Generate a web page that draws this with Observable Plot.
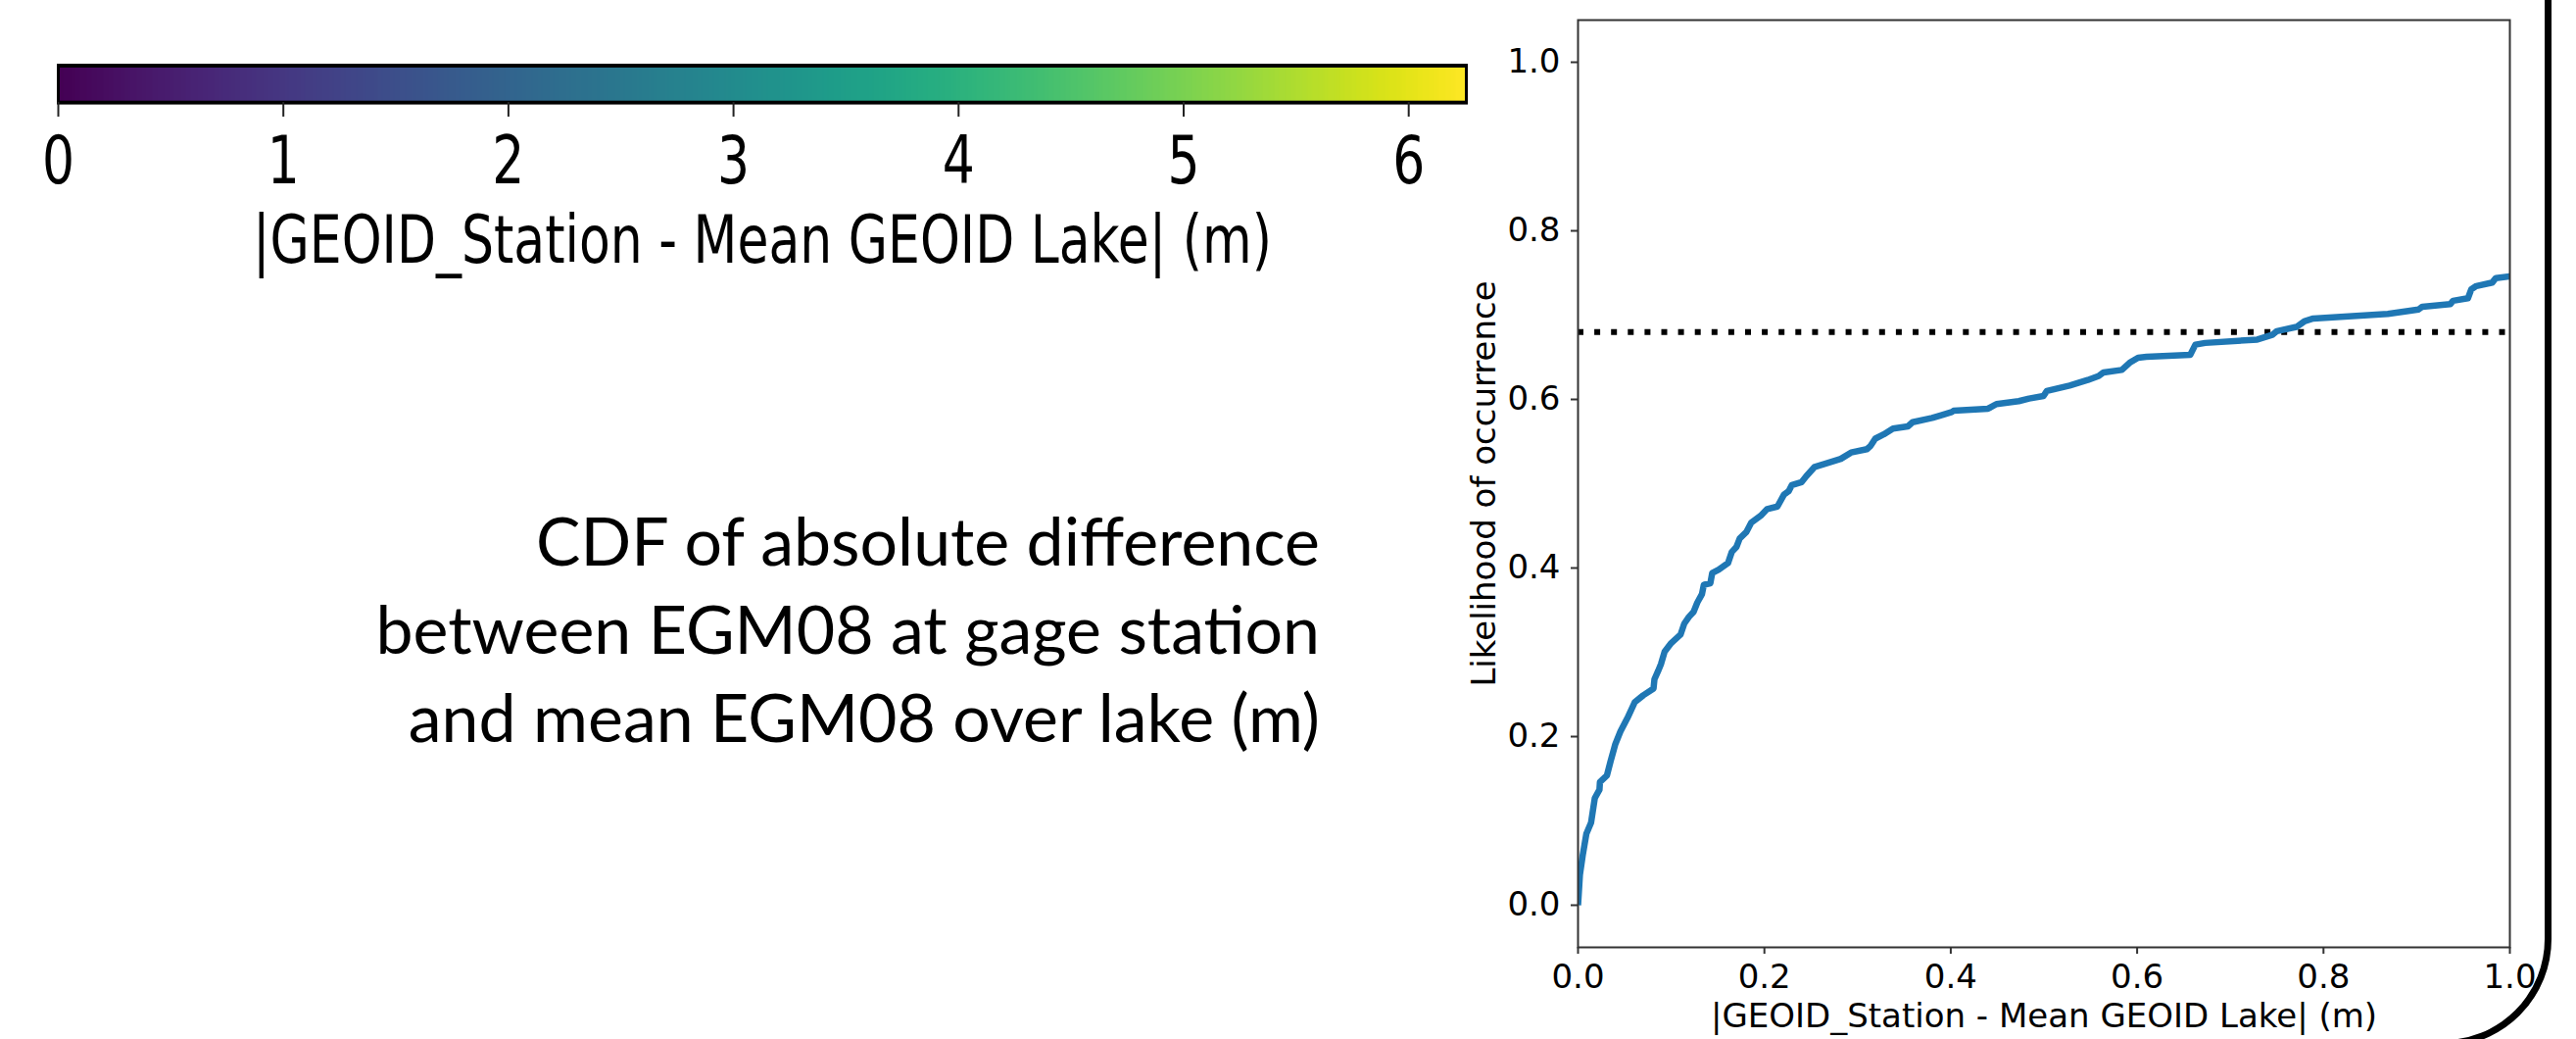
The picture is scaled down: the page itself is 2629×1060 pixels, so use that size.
<!DOCTYPE html>
<html>
<head>
<meta charset="utf-8">
<script src="https://cdn.jsdelivr.net/npm/d3@7"></script>
<script src="https://cdn.jsdelivr.net/npm/@observablehq/plot@0.6"></script>
<style>
  html, body { margin: 0; padding: 0; width: 2629px; height: 1060px; overflow: hidden; background: #fff; }
  #stage { position: relative; width: 2629px; height: 1060px; overflow: hidden; }
  #cbar { position: absolute; left: 0; top: 0; transform: scale(1, 1.3); transform-origin: 0 0; }
  #cdf { position: absolute; left: 1460px; top: 0; }
  .cap { position: absolute; left: 0; width: 1347px; text-align: right; font-family: Lato, "Open Sans", sans-serif;
         font-size: 68px; line-height: 68px; color: #000; white-space: nowrap; }
  #frame { position: absolute; left: -300px; top: -300px; width: 2904px; height: 1368px; box-sizing: border-box;
           border: 7px solid #000; border-radius: 110px; pointer-events: none; }
</style>
</head>
<body>
<div id="stage">
  <div id="frame"></div>
  <div id="cbar"></div>
  <div id="caption"></div>
  <div id="cdf"></div>
</div>
<script>
// ---------- data ----------
const cdfX = [0, 0.002, 0.005, 0.009, 0.014, 0.018, 0.023, 0.0235, 0.031, 0.035, 0.040, 0.0455, 0.053, 0.061, 0.070,
  0.081, 0.082, 0.086, 0.089, 0.093, 0.100, 0.110, 0.114, 0.119, 0.124, 0.128, 0.133, 0.135, 0.142, 0.144, 0.151,
  0.161, 0.165, 0.170, 0.1735, 0.1805, 0.186, 0.191, 0.196, 0.203, 0.214, 0.221, 0.226, 0.2295, 0.240, 0.245, 0.254,
  0.266, 0.282, 0.293, 0.310, 0.314, 0.319, 0.328, 0.338, 0.354, 0.359, 0.380, 0.389, 0.401, 0.403, 0.440, 0.449,
  0.473, 0.484, 0.4995, 0.503, 0.5275, 0.547, 0.559, 0.564, 0.5836, 0.592, 0.601, 0.610, 0.657, 0.6625, 0.673, 0.729,
  0.745, 0.750, 0.771, 0.780, 0.789, 0.869, 0.902, 0.906, 0.936, 0.939, 0.955, 0.9585, 0.964, 0.981, 0.985, 1.0];
const cdfY = [0, 0.036, 0.059, 0.085, 0.098, 0.127, 0.137, 0.146, 0.154, 0.171, 0.191, 0.206, 0.222, 0.241, 0.249,
  0.257, 0.268, 0.278, 0.286, 0.301, 0.311, 0.321, 0.334, 0.342, 0.348, 0.359, 0.369, 0.380, 0.382, 0.394, 0.398,
  0.406, 0.419, 0.425, 0.435, 0.4425, 0.454, 0.458, 0.462, 0.470, 0.473, 0.487, 0.491, 0.4985, 0.502, 0.509, 0.520,
  0.524, 0.5295, 0.537, 0.541, 0.545, 0.5535, 0.5585, 0.5655, 0.568, 0.573, 0.578, 0.581, 0.585, 0.5865, 0.589, 0.5945,
  0.598, 0.601, 0.604, 0.610, 0.6165, 0.623, 0.628, 0.632, 0.635, 0.6435, 0.6495, 0.6505, 0.653, 0.665, 0.667, 0.671,
  0.6765, 0.681, 0.686, 0.693, 0.696, 0.7015, 0.7067, 0.710, 0.713, 0.717, 0.720, 0.7305, 0.7345, 0.7385, 0.744, 0.746];
const thresholdY = [0.68];
const xTicks = [0, 0.2, 0.4, 0.6, 0.8, 1.0];
const yTicks = [0, 0.2, 0.4, 0.6, 0.8, 1.0];
const xDomain = [0, 1];
const yDomain = [-0.05, 1.05];
const xLabel = "|GEOID_Station - Mean GEOID Lake| (m)";
const yLabel = "Likelihood of occurrence";

const cbMax = 6.256;
const cbTicks = [0, 1, 2, 3, 4, 5, 6];
const cbLabel = "|GEOID_Station - Mean GEOID Lake| (m)";

const captionLines = [
  "CDF of absolute difference",
  "between EGM08 at gage station",
  "and mean EGM08 over lake (m)"
];

// ---------- colorbar ----------
const cbRamp = typeof Plot.raster === "function"
  ? Plot.raster({x1: 0, x2: cbMax, y1: 0, y2: 1, width: 600, height: 1, fill: (x, y) => x, imageRendering: "auto"})
  : Plot.rect(d3.range(0, cbMax, cbMax / 400), {x1: d => d, x2: d => d + cbMax / 400, y1: 0, y2: 1, fill: d => d, insetLeft: -0.6, insetRight: -0.6});

const cbar = Plot.plot({
  width: 1560, height: 230,
  marginLeft: 59, marginRight: 64, marginTop: 51, marginBottom: 150,
  style: {fontFamily: "DejaVu Sans", fontSize: "52px", color: "#000", background: "transparent", overflow: "visible"},
  x: {domain: [0, cbMax]},
  y: {domain: [0, 1], axis: null},
  color: {type: "linear", scheme: "viridis", domain: [0, cbMax]},
  marks: [
    cbRamp,
    Plot.frame({stroke: "#000", strokeWidth: 3}),
    Plot.axisX({ticks: cbTicks, tickSize: 11.5, tickPadding: 14.6, tickFormat: d => String(d), strokeWidth: 2, stroke: "#222", label: null}),
    Plot.text([cbLabel], {frameAnchor: "bottom", dy: 125.5, lineAnchor: "bottom", text: d => d, fill: "#000"})
  ]
});
document.getElementById("cbar").appendChild(cbar);

// ---------- CDF plot ----------
const cdfData = cdfX.map((x, i) => ({x, y: cdfY[i]}));
const fmt = d3.format(".1f");
const cdf = Plot.plot({
  width: 1130, height: 1060,
  marginLeft: 150, marginRight: 29, marginTop: 20, marginBottom: 94,
  style: {fontFamily: "DejaVu Sans", fontSize: "34px", color: "#000", background: "transparent", overflow: "visible"},
  x: {domain: xDomain},
  y: {domain: yDomain},
  marks: [
    Plot.ruleY(thresholdY, {stroke: "#000", strokeWidth: 6, strokeDasharray: "6 11.1"}),
    Plot.line(cdfData, {x: "x", y: "y", stroke: "#1f77b4", strokeWidth: 6.5, clip: true, strokeLinejoin: "round", strokeLinecap: "butt"}),
    Plot.frame({stroke: "#333", strokeWidth: 2}),
    Plot.axisX({ticks: xTicks, tickFormat: fmt, tickSize: 7, tickPadding: 10, strokeWidth: 2, stroke: "#333", label: null}),
    Plot.axisY({ticks: yTicks, tickFormat: fmt, tickSize: 7, tickPadding: 11, strokeWidth: 2, stroke: "#333", label: null}),
    Plot.text([xLabel], {frameAnchor: "bottom", dy: 81, lineAnchor: "bottom", text: d => d, fill: "#000"}),
    Plot.text([yLabel], {frameAnchor: "left", dx: -85, rotate: -90, lineAnchor: "bottom", textAnchor: "middle", text: d => d, fill: "#000"})
  ]
});
document.getElementById("cdf").appendChild(cdf);

// ---------- caption ----------
const capTops = [517, 607, 697];
const capHost = document.getElementById("caption");
captionLines.forEach((t, i) => {
  const div = document.createElement("div");
  div.className = "cap";
  div.style.top = capTops[i] + "px";
  div.textContent = t;
  capHost.appendChild(div);
});
</script>
</body>
</html>
